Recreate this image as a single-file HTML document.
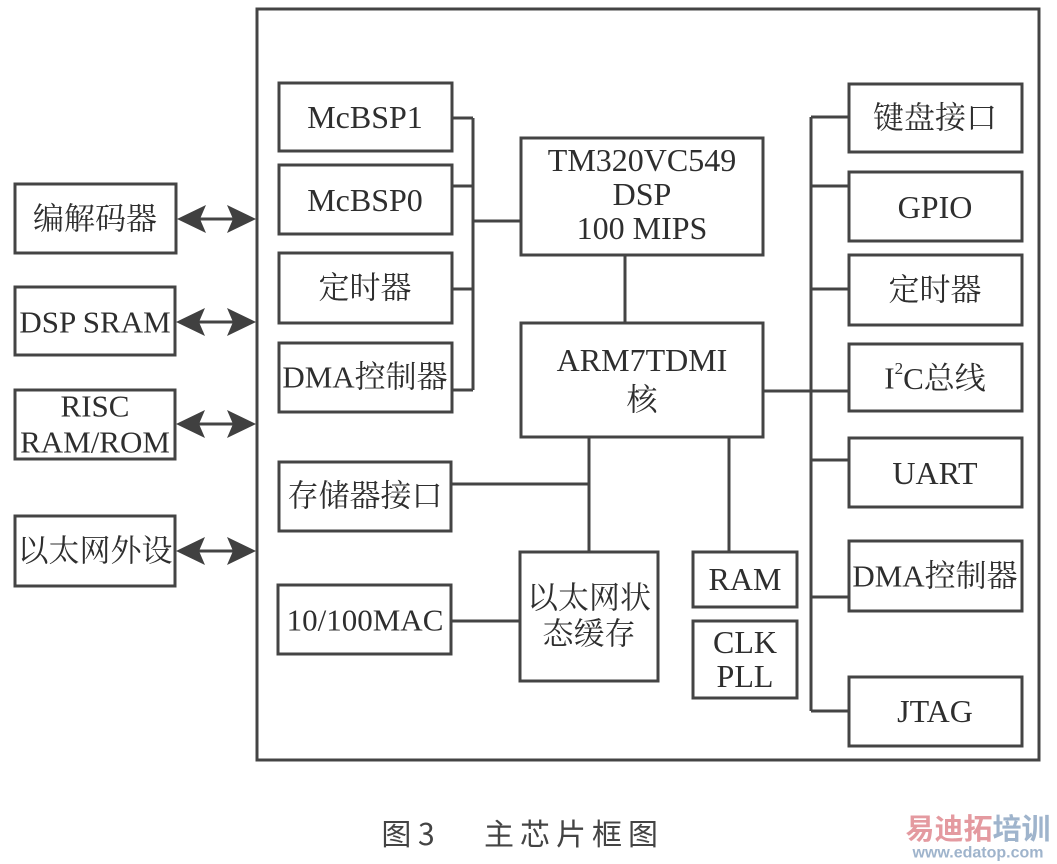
<!DOCTYPE html>
<html><head><meta charset="utf-8"><style>
html,body{margin:0;padding:0;background:#fff;}
svg{display:block}
text{font-family:"Liberation Serif","Noto Serif CJK SC",serif;fill:#2e2e2e;font-size:32px;text-anchor:middle;dominant-baseline:central}
.c{font-family:"Liberation Serif","Noto Serif CJK SC",serif;font-size:31px}
</style></head><body>
<svg width="1057" height="864" viewBox="0 0 1057 864" xmlns="http://www.w3.org/2000/svg">
<g fill="none" stroke="#444" stroke-width="3">
<rect x="257" y="9" width="782" height="751"/>
<rect x="15" y="184" width="161" height="69"/>
<rect x="15" y="287" width="160" height="68"/>
<rect x="15" y="390" width="160" height="69"/>
<rect x="15" y="516" width="160" height="70"/>
<rect x="279" y="83" width="173" height="68"/>
<rect x="279" y="165" width="173" height="69"/>
<rect x="279" y="253" width="173" height="70"/>
<rect x="279" y="343" width="173" height="69"/>
<rect x="279" y="462" width="172" height="69"/>
<rect x="278" y="585" width="173" height="69"/>
<rect x="521" y="138" width="242" height="117"/>
<rect x="521" y="323" width="242" height="114"/>
<rect x="520" y="552" width="138" height="129"/>
<rect x="693" y="552" width="104" height="55"/>
<rect x="693" y="621" width="104" height="77"/>
<rect x="849" y="84" width="173" height="68"/>
<rect x="849" y="172" width="173" height="69"/>
<rect x="849" y="255" width="173" height="70"/>
<rect x="849" y="344" width="173" height="67"/>
<rect x="849" y="438" width="173" height="69"/>
<rect x="849" y="541" width="173" height="70"/>
<rect x="849" y="677" width="173" height="69"/>
<path d="M452 118H473M452 186H473M452 289H473M452 390H473M473 118V390M473 221H521"/>
<path d="M625 255V323M451 484H589M589 437V552M451 621H520M729 437V552"/>
<path d="M811 117V711M811 117H849M811 186H849M811 289H849M763 391H849M811 460H849M811 597H849M811 711H849"/>
<path d="M195 219H235M195 322H235M195 424H235M195 551H235" stroke-width="3"/>
</g>
<g fill="#404040">
<path d="M177 219L206 205L200 219L206 233Z M256 219L227 205L233 219L227 233Z"/>
<path d="M176 322L205 308L199 322L205 336Z M256 322L227 308L233 322L227 336Z"/>
<path d="M176 424L205 410L199 424L205 438Z M256 424L227 410L233 424L227 438Z"/>
<path d="M176 551L205 537L199 551L205 565Z M256 551L227 537L233 551L227 565Z"/>
</g>
<text x="95" y="219" class="c">编解码器</text>
<text x="95" y="322" style="font-size:31px">DSP SRAM</text>
<text x="95" y="406" style="font-size:31px">RISC</text>
<text x="95" y="442" style="font-size:31px">RAM/ROM</text>
<text x="95" y="551" class="c">以太网外设</text>
<text x="365" y="117">McBSP1</text>
<text x="365" y="200">McBSP0</text>
<text x="365" y="288" class="c">定时器</text>
<text x="365" y="377" class="c">DMA控制器</text>
<text x="365" y="496" class="c">存储器接口</text>
<text x="365" y="620" style="font-size:31px">10/100MAC</text>
<text x="642" y="160">TM320VC549</text>
<text x="642" y="194">DSP</text>
<text x="642" y="228">100 MIPS</text>
<text x="642" y="360">ARM7TDMI</text>
<text x="642" y="400" class="c">核</text>
<text x="589" y="598" class="c">以太网状</text>
<text x="589" y="634" class="c">态缓存</text>
<text x="745" y="579">RAM</text>
<text x="745" y="642">CLK</text>
<text x="745" y="676">PLL</text>
<text x="935" y="118" class="c">键盘接口</text>
<text x="935" y="207">GPIO</text>
<text x="935" y="290" class="c">定时器</text>
<text x="935" y="378" class="c">I<tspan dy="-10" style="font-size:17px">2</tspan><tspan dy="10">C总线</tspan></text>
<text x="935" y="473">UART</text>
<text x="935" y="576" class="c">DMA控制器</text>
<text x="935" y="711">JTAG</text>
<text x="408" y="832" style="font-family:'Noto Sans CJK SC',sans-serif;font-size:30px;fill:#444">图 3</text>
<text x="574" y="832" style="font-family:'Noto Sans CJK SC',sans-serif;font-size:30px;fill:#444;letter-spacing:6px">主芯片框图</text>
<text x="978" y="827" style="font-family:'Noto Sans CJK SC',sans-serif;font-weight:bold;font-size:29px;fill:#e49aa0">易迪拓<tspan style="fill:#9fb4cc">培训</tspan></text>
<text x="978" y="853" style="font-family:'Liberation Sans',sans-serif;font-weight:bold;font-size:16px;fill:#9fb4cc">www.edatop.com</text>
</svg>
</body></html>
